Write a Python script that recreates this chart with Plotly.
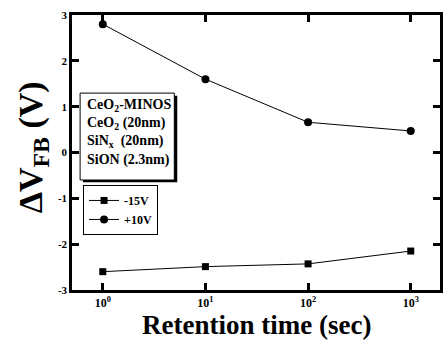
import plotly.graph_objects as go

times = [1, 10, 100, 1000]
v_minus15 = [-2.6, -2.49, -2.43, -2.15]
v_plus10 = [2.8, 1.6, 0.66, 0.47]
series_names = ["-15V", "+10V"]
x_tickvals = [1, 10, 100, 1000]
x_ticktext = ["10<sup>0</sup>", "10<sup>1</sup>", "10<sup>2</sup>", "10<sup>3</sup>"]
y_tickvals = [-3, -2, -1, 0, 1, 2, 3]
y_ticktext = ["-3", "-2", "-1", "0", "1", "2", "3"]
info_lines = ["CeO<sub>2</sub>-MINOS", "CeO<sub>2</sub> (20nm)", "SiN<sub>x</sub>  (20nm)", "SiON (2.3nm)"]
x_title = "Retention time (sec)"
y_title = "ΔV<sub>FB</sub> (V)"

FONT = "Liberation Serif"

fig = go.Figure()
fig.add_trace(go.Scatter(x=times, y=v_minus15, name=series_names[0], mode="lines+markers",
                         line=dict(color="black", width=1),
                         marker=dict(symbol="square", size=7, color="black")))
fig.add_trace(go.Scatter(x=times, y=v_plus10, name=series_names[1], mode="lines+markers",
                         line=dict(color="black", width=1),
                         marker=dict(symbol="circle", size=8, color="black")))

fig.update_xaxes(type="log", range=[-0.3, 3.285], tickmode="array", tickvals=x_tickvals,
                 ticktext=["<b>" + t + "</b>" for t in x_ticktext],
                 tickfont=dict(family=FONT, size=12, color="black"),
                 showline=True, linecolor="black", linewidth=2.5, mirror="ticks",
                 ticks="inside", ticklen=7, tickwidth=2.5, tickcolor="black",
                 showgrid=False, zeroline=False)
fig.update_yaxes(range=[-3, 3], tickmode="array", tickvals=y_tickvals,
                 ticktext=["<b>" + t + "</b>" for t in y_ticktext],
                 tickfont=dict(family=FONT, size=11, color="black"),
                 showline=True, linecolor="black", linewidth=2.5, mirror="ticks",
                 ticks="inside", ticklen=7, tickwidth=2.5, tickcolor="black",
                 showgrid=False, zeroline=False)

# axis titles
fig.add_annotation(xref="paper", yref="paper", x=0.5, y=-0.19, xanchor="center", yanchor="bottom",
                   text="<b>" + x_title + "</b>", showarrow=False,
                   font=dict(family=FONT, size=27, color="black"))
fig.add_annotation(xref="paper", yref="paper", x=-0.105, y=0.52, xanchor="center", yanchor="middle",
                   text="<b>" + y_title + "</b>", showarrow=False, textangle=-90,
                   font=dict(family=FONT, size=34, color="black"))

# info box with shadow
fig.add_shape(type="rect", xref="paper", yref="paper", x0=0.030, x1=0.286, y0=0.392, y1=0.706,
              fillcolor="black", line=dict(width=0), layer="above")
fig.add_shape(type="rect", xref="paper", yref="paper", x0=0.022, x1=0.278, y0=0.400, y1=0.716,
              fillcolor="white", line=dict(color="black", width=1), layer="above")
fig.add_annotation(xref="paper", yref="paper", x=0.035, y=0.708, xanchor="left", yanchor="top",
                   text="<br>".join("<b>" + s + "</b>" for s in info_lines), showarrow=False, align="left",
                   font=dict(family=FONT, size=14, color="black"))

fig.update_layout(
    width=445, height=344,
    margin=dict(l=72, r=2, t=15, b=54),
    paper_bgcolor="white", plot_bgcolor="white",
    font=dict(family=FONT, color="black"),
    legend=dict(x=0.03, y=0.382, xanchor="left", yanchor="top", bgcolor="white",
                bordercolor="black", borderwidth=1, font=dict(family=FONT, size=12, color="black"),
                itemwidth=30, tracegroupgap=0),
)
fig.for_each_trace(lambda t: t.update(name="<b>" + t.name + "</b>"))

fig.write_html("out.html", config={"displayModeBar": False},
               post_script="document.body.style.margin='0';document.body.style.overflow='hidden';")
